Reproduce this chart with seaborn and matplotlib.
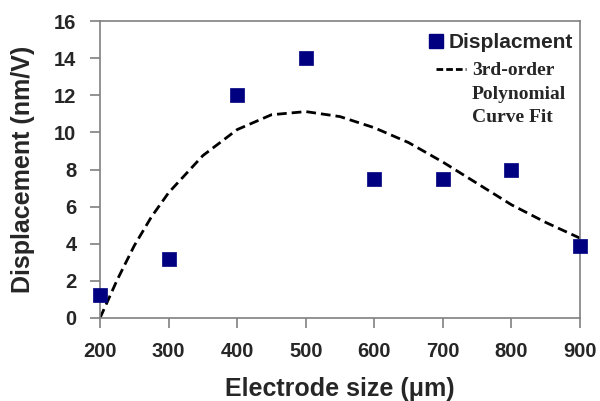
import matplotlib
matplotlib.use("Agg")
import matplotlib.pyplot as plt
import seaborn as sns
import pandas as pd
from matplotlib.lines import Line2D

# Data
electrode_size = [200, 300, 400, 500, 600, 700, 800, 900]
displacement = [1.25, 3.2, 12.0, 14.0, 7.5, 7.5, 8.0, 3.9]

fit_x = [200, 225, 250, 275, 300, 350, 400, 450, 500, 550, 600, 650, 700, 750, 800, 850, 900]
fit_y = [0.0, 2.05, 3.9, 5.45, 6.75, 8.75, 10.15, 10.95, 11.12, 10.85, 10.25, 9.45, 8.4, 7.25, 6.1, 5.15, 4.3]

x_ticks = [200, 300, 400, 500, 600, 700, 800, 900]
y_ticks = [0, 2, 4, 6, 8, 10, 12, 14, 16]

sns.set_style("white")
plt.rcParams['font.family'] = ['Liberation Sans', 'DejaVu Sans']

pts = pd.DataFrame({"x": electrode_size, "y": displacement})
fit = pd.DataFrame({"x": fit_x, "y": fit_y})

fig = plt.figure(figsize=(6.0, 4.01), dpi=100)
ax = fig.add_axes([0.1667, 0.207, 0.80, 0.7406])

sns.lineplot(data=fit, x="x", y="y", ax=ax, color="black", linewidth=2.0,
             linestyle=(0, (3.5, 1.8)), zorder=2)
sns.scatterplot(data=pts, x="x", y="y", ax=ax, marker="s", s=95, color="#000080",
                edgecolor="#000080", linewidth=0.5, zorder=3, clip_on=False)

ax.set_xlim(200, 900)
ax.set_ylim(0, 16)
ax.set_xticks(x_ticks)
ax.set_yticks(y_ticks)
ax.set_xticklabels([str(t) for t in x_ticks], fontsize=14.5, fontweight="bold")
ax.set_yticklabels([str(t) for t in y_ticks], fontsize=14.5, fontweight="bold")
ax.tick_params(axis="both", direction="out", length=7, width=1.2, color="#808080",
               bottom=True, left=True)
ax.tick_params(axis="x", pad=10)
ax.tick_params(axis="y", pad=10)
for sp in ax.spines.values():
    sp.set_color("#808080")
    sp.set_linewidth(1.2)
    sp.set_visible(True)

ax.set_xlabel("Electrode size (μm)", fontsize=18, fontweight="bold", labelpad=12)
ax.set_ylabel("Displacement (nm/V)", fontsize=18, fontweight="bold", labelpad=14)

# Legend entry 1: data points
leg1 = ax.legend([Line2D([], [], marker="s", linestyle="none", color="#000080", markersize=10)],
                 ["Displacment"], loc="upper left", bbox_to_anchor=(0.68, 0.958),
                 frameon=False, handlelength=0.9, handletextpad=0.15,
                 borderpad=0, borderaxespad=0,
                 prop={"size": 15, "weight": "bold"})
ax.add_artist(leg1)

# Legend entry 2: polynomial fit
fit_handles = [
    Line2D([], [], color="black", linestyle=(0, (2.4, 1.1)), linewidth=2.0),
    Line2D([], [], linestyle="none"),
    Line2D([], [], linestyle="none"),
]
fit_labels = ["3rd-order", "Polynomial", "Curve Fit"]
leg2 = ax.legend(fit_handles, fit_labels, loc="upper left", bbox_to_anchor=(0.70, 0.863),
                 frameon=False, handlelength=1.55, handletextpad=0.3,
                 labelspacing=0.3, borderpad=0, borderaxespad=0,
                 prop={"family": ["Liberation Serif", "DejaVu Serif"], "size": 14,
                       "weight": "bold"})

fig.savefig("out.png", dpi=100)
